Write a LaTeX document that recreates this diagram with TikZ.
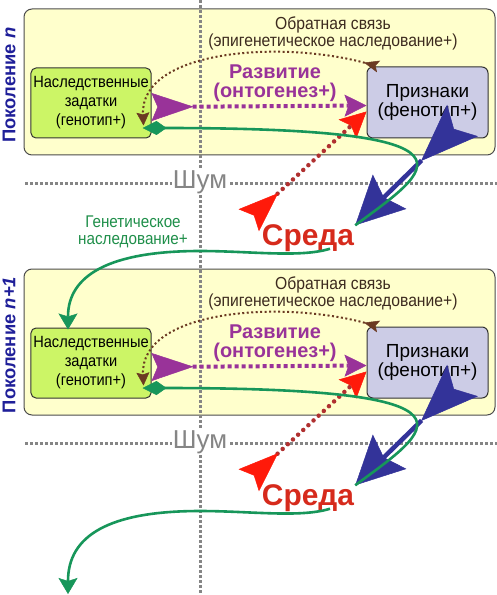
\documentclass[tikz,border=0pt]{standalone}
\usepackage{fontspec}
\setmainfont{Liberation Sans}
\newfontfamily\narrowfont[FakeStretch=0.9]{Liberation Sans}
\usepackage{tikz}
\usetikzlibrary{arrows.meta}
\definecolor{panelfill}{HTML}{FFFFCC}
\definecolor{genofill}{HTML}{CCF566}
\definecolor{phenofill}{HTML}{CCCCE6}
\definecolor{genblue}{HTML}{1F1F99}
\definecolor{noisegray}{HTML}{858585}
\definecolor{fbtext}{HTML}{3D2B1F}
\definecolor{fbbrown}{HTML}{6B3A22}
\definecolor{devpurple}{HTML}{993399}
\definecolor{envred}{HTML}{D62A1C}
\definecolor{linered}{HTML}{B03030}
\definecolor{brightred}{HTML}{FF1A0A}
\definecolor{selblue}{HTML}{333399}
\definecolor{heredgreen}{HTML}{17965A}
\definecolor{heredtext}{HTML}{1F8F4A}
\tikzstyle{panel} = [draw=black!70, fill=panelfill, line width=1bp, rounded corners=8bp]
\tikzstyle{geno} = [rectangle, rounded corners=5bp, draw=black!80, line width=1bp, fill=genofill, minimum width=120bp, minimum height=70bp, inner sep=1bp, align=center, font=\narrowfont\fontsize{16.3}{19}\selectfont]
\tikzstyle{pheno} = [rectangle, rounded corners=6bp, draw=black!80, line width=1bp, fill=phenofill, minimum width=121bp, minimum height=71bp, inner sep=1bp, align=center, font=\fontsize{19}{19}\selectfont]
\tikzstyle{env} = [text=envred, inner sep=1bp, font=\bfseries\fontsize{30}{30}\selectfont]
\tikzstyle{noise} = [draw=noisegray, line width=3bp, dash pattern=on 3bp off 2bp]
\tikzstyle{noiselabel} = [text=noisegray, fill=white, inner sep=1bp, font=\fontsize{26}{26}\selectfont]
\tikzstyle{genlabel} = [text=genblue, rotate=90, font=\bfseries\fontsize{18.5}{18.5}\selectfont]
\tikzstyle{fblabel} = [text=fbtext, align=center, font=\narrowfont\fontsize{17.5}{17}\selectfont]
\tikzstyle{devlabel} = [text=devpurple, align=center, font=\bfseries\fontsize{20}{19.5}\selectfont]
\tikzstyle{heredlabel} = [text=heredtext, align=center, font=\narrowfont\fontsize{17}{16.5}\selectfont]
\tikzstyle{devarrow} = [draw=devpurple, line width=4bp, dash pattern=on 4bp off 3bp, arrows={Stealth[reversed,length=42bp,width=28bp,inset=6bp,line width=0.5bp]-Stealth[length=22bp,width=22bp,inset=4bp,line width=0.5bp]}]
\tikzstyle{envarrow} = [draw=linered, line width=4.5bp, line cap=round, dash pattern=on 0bp off 7bp, arrows={Stealth[reversed,length=40bp,width=30bp,inset=7bp,line width=0.5bp,color=brightred]-Stealth[length=26bp,width=26bp,inset=5bp,line width=0.5bp,color=brightred]}]
\tikzstyle{selarrow} = [draw=selblue, line width=4.5bp, arrows={Stealth[reversed,length=58bp,width=44bp,inset=12bp,line width=0.5bp]-Stealth[length=48bp,width=48bp,inset=8bp,line width=0.5bp]}]
\tikzstyle{heredarrow} = [draw=heredgreen, line width=2.6bp]
\tikzstyle{fbarrow} = [draw=fbbrown, line width=2bp, dash pattern=on 2bp off 2.5bp, arrows={Stealth[reversed,length=15bp,width=12bp,inset=3bp,line width=0.5bp]-Stealth[length=13bp,width=13bp,inset=2bp,line width=0.5bp]}]

\begin{document}
\begin{tikzpicture}[x=1bp,y=-1bp]
\path[use as bounding box, fill=white] (0,0) rectangle (497,595);

\foreach \g in {0,260}
  \draw[panel] (24,\g+9) rectangle (495,\g+155);

\draw[noise] (200,0) -- (200,595);
\foreach \i/\g in {1/0,2/260}{
  \draw[noise] (25,\g+183) -- (497,\g+183);
  \node (noise\i) [noiselabel] at (200,\g+182) {Шум};
}

\foreach \i/\g/\nlab in {1/0/{\textit{n}},2/260/{\textit{n+1}}}{
  \node (gen\i) [genlabel] at (9,\g+85) {Поколение \nlab};
  \node (geno\i) [geno] at (91,\g+103) {Наследственные\\задатки\\(генотип+)};
  \node (pheno\i) [pheno] at (427.5,\g+102.5) {Признаки\\(фенотип+)};
  \node (fb\i) [fblabel] at (333,\g+33) {Обратная связь\\(эпигенетическое наследование+)};
  \node (dev\i) [devlabel] at (275,\g+83) {Развитие\\(онтогенез+)};
  \node (env\i) [env] at (308,\g+238) {Среда};
  \coordinate (gin\i) at ([xshift=-23bp,yshift=-2bp]geno\i.north);
}
\coordinate (gin3) at (68,594);
\node (hered) [heredlabel] at (133,232) {Генетическое\\наследование+};

\foreach \i/\g in {1/0,2/260}{
  \pgfmathtruncatemacro\nx{\i+1}
  \draw[devarrow] ([yshift=-4bp]geno\i.east) -- ([yshift=-3bp]pheno\i.west);
  \draw[envarrow] ([xshift=-12bp,yshift=3bp]env\i.north west) -- ([yshift=-9bp]pheno\i.west);
  \draw[selarrow] ([xshift=35bp,yshift=18bp]pheno\i.south) -- ([yshift=-2bp]env\i.north east);
  \draw[heredarrow, arrows={Kite[length=24bp,width=14bp,inset=10bp,line width=0.5bp]-}] ([xshift=-9bp,yshift=-25bp]geno\i.east) .. controls (500,\g+128) and (430,\g+170) .. ([yshift=-2bp]env\i.north east);
  \draw[heredarrow, arrows={-Stealth[length=16bp,width=19bp,inset=3bp,line width=0.5bp]}] ([xshift=22bp,yshift=4bp]env\i.south) .. controls (300,\g+258) and (250,\g+251) .. (200,\g+251) .. controls (110,\g+251) and (68,\g+275) .. (gin\nx);
  \draw[fbarrow] ([xshift=12bp]pheno\i.north west) .. controls (280,\g+40) and (140,\g+50) .. ([xshift=-8bp,yshift=13bp]geno\i.south east);
}

\end{tikzpicture}
\end{document}
